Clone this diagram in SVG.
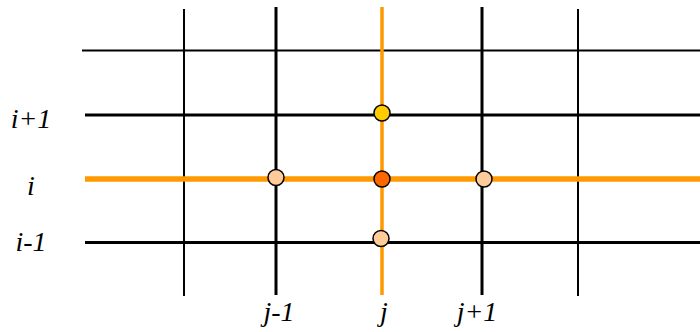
<svg xmlns="http://www.w3.org/2000/svg" width="700" height="332" viewBox="0 0 700 332">
<style>
.k{stroke:#000;fill:none}
.o{stroke:#FF9900;fill:none}
.pt{stroke:#000;stroke-width:1.5}
</style>
<rect width="700" height="332" fill="#fff"/>
<g id="connectors">
<line class="k" x1="82" y1="50.5" x2="700" y2="50.5" stroke-width="2"/>
<line class="k" x1="85" y1="115" x2="700" y2="115" stroke-width="3"/>
<line class="k" x1="85" y1="242.5" x2="700" y2="242.5" stroke-width="3"/>
<line class="k" x1="184" y1="9" x2="184" y2="296" stroke-width="2"/>
<line class="k" x1="276" y1="7" x2="276" y2="295" stroke-width="3"/>
<line class="k" x1="482" y1="7" x2="482" y2="295" stroke-width="3"/>
<line class="k" x1="578" y1="9" x2="578" y2="296" stroke-width="2"/>
<line class="o" x1="382" y1="7" x2="382" y2="295" stroke-width="3.5"/>
<line class="o" x1="85" y1="179" x2="700" y2="179" stroke-width="5.5"/>
</g>
<g id="node-top"><circle class="pt" cx="382" cy="113" r="8" fill="#FFCC00"/></g>
<g id="node-left"><circle class="pt" cx="276" cy="177.5" r="8" fill="#FFCC99"/></g>
<g id="node-center"><circle class="pt" cx="382" cy="179" r="8" fill="#FF6600"/></g>
<g id="node-right"><circle class="pt" cx="484" cy="179" r="8" fill="#FFCC99"/></g>
<g id="node-bottom"><circle class="pt" cx="381" cy="238.5" r="8" fill="#FFCC99"/></g>
<g id="labels" font-family="'Liberation Serif', 'Times New Roman', serif" font-style="italic" font-size="28" fill="#000" text-anchor="middle">
<text x="31" y="128">i+1</text>
<text x="31" y="195">i</text>
<text x="31" y="251">i-1</text>
<text x="279" y="321">j-1</text>
<text x="384" y="321">j</text>
<text x="477" y="321">j+1</text>
</g>
</svg>
